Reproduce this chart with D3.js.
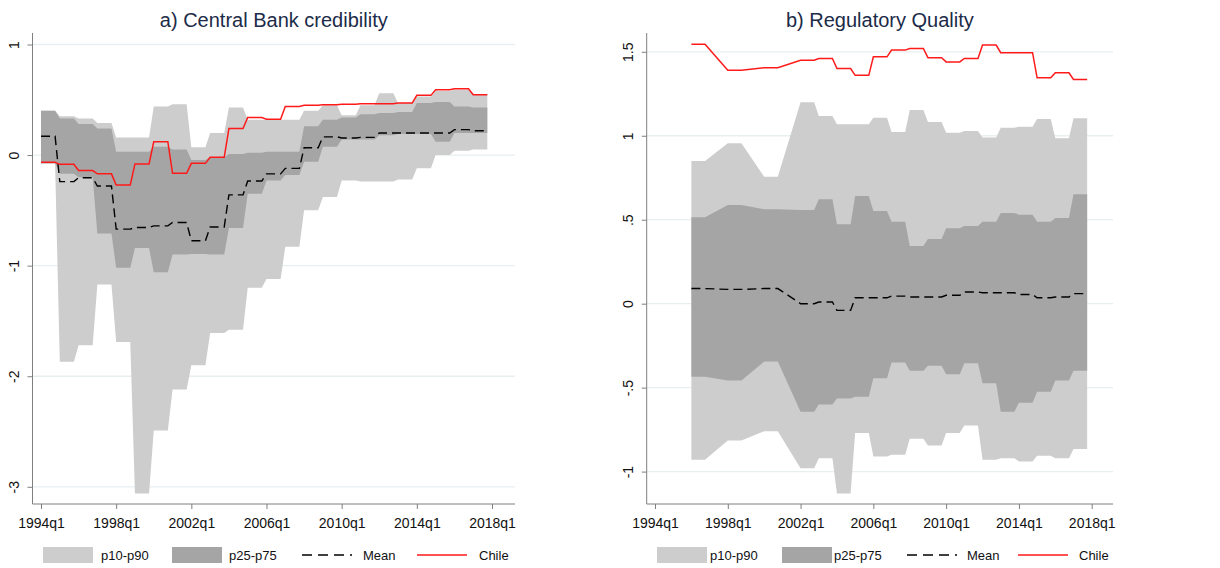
<!DOCTYPE html>
<html>
<head>
<meta charset="utf-8">
<script src="https://cdn.jsdelivr.net/npm/d3@7"></script>
<style>
	body { margin: 0; background: #fff; }
	text { font-family: "Liberation Sans", Arial, sans-serif; }
</style>
</head>
<body>
<script>
// annual values, each drawn flat from q1 to q4
const years = [1994, 1995, 1996, 1997, 1998, 1999, 2000, 2001, 2002, 2003, 2004, 2005,
	2006, 2007, 2008, 2009, 2010, 2011, 2012, 2013, 2014, 2015, 2016, 2017];

// a) Central Bank credibility
const cbP10 = [-0.08, -1.87, -1.72, -1.17, -1.69, -3.06, -2.49, -2.12, -1.90, -1.61, -1.58, -1.20,
	-1.12, -0.83, -0.50, -0.38, -0.23, -0.24, -0.24, -0.22, -0.12, 0.00, 0.04, 0.05];
const cbP25 = [-0.07, -0.17, -0.20, -0.71, -1.02, -0.84, -1.06, -0.90, -0.895, -0.90, -0.66, -0.35,
	-0.23, -0.18, -0.06, 0.075, 0.14, 0.14, 0.18, 0.19, 0.19, 0.12, 0.20, 0.20];
const cbMean = [0.17, -0.24, -0.205, -0.28, -0.67, -0.655, -0.64, -0.61, -0.775, -0.65, -0.36, -0.235,
	-0.17, -0.12, 0.066, 0.165, 0.155, 0.16, 0.20, 0.20, 0.20, 0.20, 0.23, 0.22];
const cbP75 = [0.40, 0.33, 0.28, 0.24, 0.03, 0.03, 0.075, 0.05, -0.045, -0.02, 0.01, 0.02,
	0.03, 0.03, 0.26, 0.32, 0.34, 0.37, 0.38, 0.39, 0.47, 0.48, 0.44, 0.43];
const cbP90 = [0.40, 0.35, 0.33, 0.29, 0.16, 0.16, 0.44, 0.46, 0.07, 0.20, 0.43, 0.32,
	0.32, 0.32, 0.40, 0.45, 0.36, 0.45, 0.56, 0.47, 0.53, 0.58, 0.59, 0.55];
const cbChile = [-0.066, -0.084, -0.14, -0.17, -0.27, -0.08, 0.12, -0.165, -0.075, -0.02, 0.24, 0.34,
	0.325, 0.44, 0.45, 0.455, 0.46, 0.465, 0.465, 0.47, 0.54, 0.59, 0.60, 0.545];

// b) Regulatory Quality (biennial before 2002)
const rqP10 = [null, null, -0.93, null, -0.815, null, -0.76, null, -0.98, -0.92, -1.13, -0.77,
	-0.91, -0.90, -0.805, -0.845, -0.77, -0.725, -0.93, -0.92, -0.94, -0.905, -0.92, -0.865];
const rqP25 = [null, null, -0.435, null, -0.458, null, -0.345, null, -0.643, -0.60, -0.565, -0.554,
	-0.444, -0.35, -0.40, -0.37, -0.42, -0.355, -0.474, -0.643, -0.59, -0.524, -0.458, -0.40];
const rqMean = [null, null, 0.09, null, 0.085, null, 0.09, null, 0.0, 0.01, -0.04, 0.035,
	0.035, 0.045, 0.04, 0.04, 0.05, 0.07, 0.065, 0.065, 0.055, 0.035, 0.04, 0.06];
const rqP75 = [null, null, 0.514, null, 0.588, null, 0.562, null, 0.558, 0.622, 0.473, 0.641,
	0.552, 0.488, 0.344, 0.385, 0.449, 0.463, 0.488, 0.54, 0.53, 0.488, 0.51, 0.652];
const rqP90 = [null, null, 0.85, null, 0.955, null, 0.756, null, 1.20, 1.118, 1.068, 1.068,
	1.108, 1.023, 1.154, 1.082, 1.018, 1.029, 0.99, 1.048, 1.054, 1.10, 0.985, 1.104];
const rqChile = [null, null, 1.545, null, 1.39, null, 1.405, null, 1.45, 1.46, 1.40, 1.36,
	1.47, 1.51, 1.52, 1.465, 1.44, 1.46, 1.54, 1.495, 1.495, 1.345, 1.375, 1.335];

const xTicks = [1994, 1998, 2002, 2006, 2010, 2014, 2018];
const xTickLabels = ["1994q1", "1998q1", "2002q1", "2006q1", "2010q1", "2014q1", "2018q1"];
const cbTicks = [-3, -2, -1, 0, 1];
const cbTickLabels = ["-3", "-2", "-1", "0", "1"];
const rqTicks = [-1, -0.5, 0, 0.5, 1, 1.5];
const rqTickLabels = ["-1", "-.5", "0", ".5", "1", "1.5"];
const legendLabels = ["p10-p90", "p25-p75", "Mean", "Chile"];

const LIGHT = "#cdcdcd";
const DARK = "#a5a5a5";
const RED = "#ff1a1a";
const GRID = "#e7eff1";
const AXIS = "#7f7f7f";
const TITLE = "#1c2b48";

const chart = d3.select("body").append("svg")
	.attr("width", 1220)
	.attr("height", 568)
	.style("background", "#fff");

const drawPanel = (p) => {
	const x = d3.scaleLinear().domain([1994, 2018]).range(p.xRange);
	const y = d3.scaleLinear().domain(p.yDomain).range(p.yRange);
	const g = chart.append("g");

	// one point at q1 and one at q4 of every year that has a value
	const rows = years.flatMap((yr, i) => [
		{ t: yr, i: i },
		{ t: yr + 0.75, i: i }
	]);
	const has = (arr) => (d) => arr[d.i] !== null;

	g.append("text")
		.attr("x", (p.left + p.right) / 2)
		.attr("y", 27)
		.attr("text-anchor", "middle")
		.style("font-size", "20px")
		.style("fill", TITLE)
		.text(p.title);

	g.selectAll(".grid")
		.data(p.ticks)
		.enter()
		.append("line")
		.attr("class", "grid")
		.attr("x1", p.left)
		.attr("x2", p.right)
		.attr("y1", (d) => y(d))
		.attr("y2", (d) => y(d))
		.style("stroke", GRID)
		.style("stroke-width", 1.3);

	const band = (lo, hi, color) => {
		g.append("path")
			.datum(rows.filter(has(lo)))
			.attr("d", d3.area()
				.x((d) => x(d.t))
				.y0((d) => y(lo[d.i]))
				.y1((d) => y(hi[d.i])))
			.style("fill", color);
	};
	band(p.p10, p.p90, LIGHT);
	band(p.p25, p.p75, DARK);

	const line = (vals) => d3.line()
		.x((d) => x(d.t))
		.y((d) => y(vals[d.i]));

	g.append("path")
		.datum(rows.filter(has(p.mean)))
		.attr("d", line(p.mean))
		.style("fill", "none")
		.style("stroke", "#000")
		.style("stroke-width", 1.4)
		.style("stroke-dasharray", "9,5");

	g.append("path")
		.datum(rows.filter(has(p.chile)))
		.attr("d", line(p.chile))
		.style("fill", "none")
		.style("stroke", RED)
		.style("stroke-width", 1.5);

	// axes
	const yAxis = g.append("g")
		.attr("transform", "translate(" + p.left + ",0)")
		.call(d3.axisLeft(y).tickValues(p.ticks).tickSize(5).tickFormat((d, i) => p.tickLabels[i]));
	yAxis.select(".domain").remove();
	yAxis.selectAll("line").style("stroke", AXIS);
	yAxis.selectAll("text")
		.attr("x", null)
		.attr("dy", null)
		.attr("text-anchor", "middle")
		.attr("transform", "translate(-14,0) rotate(-90)")
		.style("font-size", "14px")
		.style("fill", "#111");
	g.append("line")
		.attr("x1", p.left).attr("x2", p.left)
		.attr("y1", p.top).attr("y2", p.bottom)
		.style("stroke", AXIS);

	const xAxis = g.append("g")
		.attr("transform", "translate(0," + p.bottom + ")")
		.call(d3.axisBottom(x).tickValues(xTicks).tickSize(5).tickFormat((d, i) => xTickLabels[i]));
	xAxis.select(".domain").remove();
	xAxis.selectAll("line").style("stroke", AXIS);
	xAxis.selectAll("text")
		.attr("y", 23.5)
		.attr("dy", null)
		.style("font-size", "14px")
		.style("fill", "#111");
	g.append("line")
		.attr("x1", p.left).attr("x2", p.right)
		.attr("y1", p.bottom).attr("y2", p.bottom)
		.style("stroke", AXIS);

	// legend
	const lg = g.append("g").attr("transform", "translate(0,547)");
	lg.append("rect").attr("x", p.keyX[0]).attr("width", 50).attr("height", 16).style("fill", LIGHT);
	lg.append("rect").attr("x", p.keyX[1]).attr("width", 50).attr("height", 16).style("fill", DARK);
	lg.append("line")
		.attr("x1", p.keyX[2]).attr("x2", p.keyX[2] + 50)
		.attr("y1", 8).attr("y2", 8)
		.style("stroke", "#000")
		.style("stroke-width", 1.4)
		.style("stroke-dasharray", "10,6");
	lg.append("line")
		.attr("x1", p.keyX[3]).attr("x2", p.keyX[3] + 50)
		.attr("y1", 8).attr("y2", 8)
		.style("stroke", RED)
		.style("stroke-width", 1.5);
	lg.selectAll(".lbl")
		.data(legendLabels)
		.enter()
		.append("text")
		.attr("class", "lbl")
		.attr("x", (d, i) => p.labelX[i])
		.attr("y", 13)
		.style("font-size", "13px")
		.style("fill", "#111")
		.text((d) => d);
};

drawPanel({
	title: "a) Central Bank credibility",
	p10: cbP10, p25: cbP25, mean: cbMean, p75: cbP75, p90: cbP90, chile: cbChile,
	ticks: cbTicks, tickLabels: cbTickLabels,
	left: 32.5, right: 515, top: 33, bottom: 504,
	xRange: [41, 492], yDomain: [-3, 1], yRange: [486.8, 44.5],
	keyX: [43, 172, 302, 417], labelX: [101, 229, 363, 479]
});

drawPanel({
	title: "b) Regulatory Quality",
	p10: rqP10, p25: rqP25, mean: rqMean, p75: rqP75, p90: rqP90, chile: rqChile,
	ticks: rqTicks, tickLabels: rqTickLabels,
	left: 646.7, right: 1113, top: 33, bottom: 504,
	xRange: [655, 1091.7], yDomain: [-1, 1.5], yRange: [471.6, 51.8],
	keyX: [657, 782, 907, 1018], labelX: [710, 834, 967, 1079]
});
</script>
</body>
</html>
